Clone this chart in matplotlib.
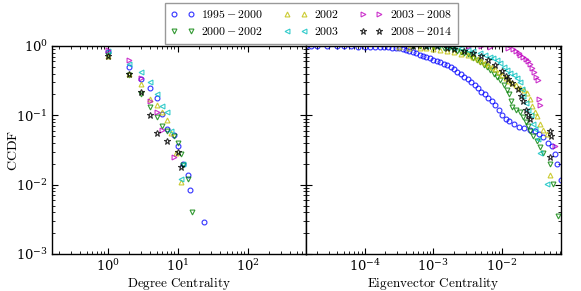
import matplotlib
matplotlib.use("Agg")
import numpy as np
from matplotlib import pyplot

pyplot.rcParams['mathtext.fontset'] = 'cm'
pyplot.rcParams['font.family'] = 'serif'
pyplot.rcParams['axes.formatter.use_mathtext'] = True
pyplot.rcParams['xtick.direction'] = 'in'
pyplot.rcParams['ytick.direction'] = 'in'
pyplot.rcParams['xtick.top'] = True
pyplot.rcParams['ytick.right'] = True
pyplot.rcParams['axes.linewidth'] = 1.0

labels = ["1995-2000", "2000-2002", "2002", "2003", "2003-2008", "2008-2014"]
colors = ["b", (0, 0.5, 0), (0.75, 0.75, 0), (0, 0.75, 0.75), (0.75, 0, 0.75), "k"]
markers = ["o", "v", "^", "<", ">", "*"]

# degree centrality CCDF
deg_x = [
    [1, 2, 3, 4, 5, 6, 7, 9, 10, 12, 14, 15, 24],
    [1, 2, 3, 4, 5, 6, 7, 9, 10, 11, 12, 14, 16],
    [1, 2, 3, 4, 5, 6, 7, 8, 9.4, 11],
    [1, 2, 3, 4, 5, 6, 7, 8, 12, 11],
    [1, 2, 3, 4, 5, 6, 9],
    [1, 2, 3, 4, 5, 7, 10, 11],
]
deg_y = [
    [0.83, 0.5, 0.33, 0.25, 0.18, 0.103, 0.063, 0.052, 0.036, 0.02, 0.0138, 0.0083, 0.0029],
    [0.75, 0.38, 0.2, 0.13, 0.095, 0.07, 0.06, 0.05, 0.04, 0.028, 0.019, 0.012, 0.004],
    [0.72, 0.4, 0.28, 0.17, 0.14, 0.11, 0.085, 0.055, 0.029, 0.011],
    [0.85, 0.55, 0.42, 0.3, 0.2, 0.135, 0.11, 0.06, 0.02, 0.012],
    [0.88, 0.62, 0.35, 0.16, 0.11, 0.062, 0.025],
    [0.72, 0.4, 0.22, 0.1, 0.055, 0.043, 0.03, 0.018],
]

# eigenvector centrality CCDF
eig_x = [
    [1.41e-5, 1.66e-5, 2.0e-5, 2.82e-5, 3.98e-5, 5.0e-5, 6.3e-5, 7.9e-5, 1.0e-4,
     1.2e-4, 1.41e-4, 1.66e-4, 1.9e-4, 2.19e-4, 2.51e-4, 2.82e-4, 3.16e-4, 3.55e-4,
     3.98e-4, 4.47e-4, 5.0e-4, 5.6e-4, 6.3e-4, 7.1e-4, 7.9e-4, 8.9e-4, 1.0e-3,
     1.12e-3, 1.26e-3, 1.41e-3, 1.58e-3, 1.78e-3, 2.0e-3, 2.24e-3, 2.51e-3, 2.82e-3,
     3.16e-3, 3.55e-3, 3.98e-3, 4.47e-3, 5.0e-3, 5.6e-3, 6.3e-3, 7.1e-3, 7.9e-3,
     8.9e-3, 1.0e-2, 1.12e-2, 1.26e-2, 1.51e-2, 1.78e-2, 2.09e-2, 2.51e-2, 3.02e-2,
     3.39e-2, 3.98e-2, 4.68e-2, 5.37e-2, 5.89e-2, 6.3e-2, 7.08e-2],
    [5.0e-4, 6.3e-4, 7.9e-4, 1.0e-3, 1.2e-3, 1.41e-3, 1.66e-3, 1.9e-3, 2.19e-3,
     2.51e-3, 2.82e-3, 3.16e-3, 3.55e-3, 3.8e-3, 4.27e-3, 4.79e-3, 5.37e-3, 6.03e-3,
     6.76e-3, 7.59e-3, 8.51e-3, 9.33e-3, 1.05e-2, 1.17e-2, 1.26e-2, 1.35e-2,
     1.41e-2, 1.58e-2, 1.82e-2, 2.0e-2, 2.19e-2, 2.4e-2, 2.57e-2, 2.82e-2, 3.24e-2,
     3.55e-2, 3.98e-2, 5.0e-2, 5.5e-2, 6.6e-2],
    [3.16e-4, 4.47e-4, 6.3e-4, 7.9e-4, 1.0e-3, 1.26e-3, 1.58e-3, 2.0e-3, 2.51e-3,
     3.16e-3, 3.8e-3, 4.47e-3, 5.0e-3, 5.6e-3, 6.3e-3, 7.1e-3, 7.9e-3, 8.9e-3,
     1.0e-2, 1.12e-2, 1.26e-2, 1.41e-2, 1.58e-2, 1.82e-2, 2.09e-2, 2.29e-2,
     2.51e-2, 2.69e-2, 3.02e-2, 3.24e-2, 3.55e-2, 3.98e-2, 4.47e-2, 5.0e-2],
    [7.9e-4, 1.12e-3, 1.58e-3, 2.0e-3, 2.51e-3, 3.16e-3, 3.8e-3, 4.79e-3, 5.6e-3,
     6.6e-3, 7.4e-3, 8.3e-3, 9.3e-3, 1.05e-2, 1.17e-2, 1.32e-2, 1.51e-2, 1.66e-2,
     1.82e-2, 1.95e-2, 2.04e-2, 2.19e-2, 2.4e-2, 2.63e-2, 2.82e-2, 3.02e-2,
     3.31e-2, 3.55e-2, 4.47e-2],
    [3.31e-3, 5.0e-3, 6.6e-3, 1.2e-2, 1.45e-2, 1.58e-2, 1.74e-2, 1.82e-2, 2.0e-2,
     2.19e-2, 2.4e-2, 2.57e-2, 2.75e-2, 2.95e-2, 3.16e-2, 3.31e-2, 3.47e-2,
     3.55e-2, 5.89e-2],
    [5.0e-4, 7.9e-4, 1.12e-3, 1.58e-3, 2.0e-3, 2.82e-3, 3.8e-3, 5.0e-3, 6.3e-3,
     7.9e-3, 1.0e-2, 1.12e-2, 1.23e-2, 1.41e-2, 1.7e-2, 1.91e-2, 2.04e-2, 2.24e-2,
     2.4e-2, 2.57e-2, 5.0e-2, 5.13e-2, 5.0e-2],
]
eig_y = [
    [0.995, 0.993, 0.99, 0.99, 0.988, 0.985, 0.985, 0.98, 0.98, 0.975, 0.97, 0.965,
     0.96, 0.955, 0.95, 0.94, 0.92, 0.90, 0.88, 0.85, 0.82, 0.78, 0.75, 0.72, 0.69,
     0.66, 0.63, 0.60, 0.58, 0.55, 0.53, 0.50, 0.46, 0.42, 0.39, 0.36, 0.33, 0.30,
     0.27, 0.25, 0.22, 0.20, 0.18, 0.16, 0.14, 0.12, 0.10, 0.09, 0.083, 0.075, 0.068,
     0.065, 0.062, 0.059, 0.053, 0.048, 0.040, 0.036, 0.028, 0.02, 0.0115],
    [0.995, 0.99, 0.985, 0.97, 0.96, 0.94, 0.92, 0.89, 0.86, 0.83, 0.80, 0.76, 0.71,
     0.67, 0.63, 0.58, 0.54, 0.50, 0.45, 0.40, 0.36, 0.32, 0.27, 0.235, 0.20, 0.16,
     0.13, 0.12, 0.11, 0.095, 0.08, 0.07, 0.06, 0.05, 0.042, 0.035, 0.029, 0.02,
     0.0104, 0.0035],
    [0.97, 0.95, 0.94, 0.93, 0.91, 0.88, 0.85, 0.81, 0.77, 0.73, 0.69, 0.65, 0.61,
     0.57, 0.53, 0.49, 0.46, 0.42, 0.38, 0.34, 0.31, 0.29, 0.27, 0.25, 0.23, 0.21,
     0.17, 0.136, 0.11, 0.098, 0.074, 0.062, 0.053, 0.014],
    [0.995, 0.99, 0.97, 0.95, 0.92, 0.88, 0.84, 0.79, 0.75, 0.70, 0.67, 0.62, 0.56,
     0.50, 0.45, 0.41, 0.38, 0.35, 0.30, 0.24, 0.19, 0.15, 0.12, 0.10, 0.075, 0.063,
     0.045, 0.029, 0.0104],
    [0.995, 0.99, 0.98, 0.95, 0.90, 0.85, 0.80, 0.74, 0.70, 0.65, 0.60, 0.55, 0.48,
     0.42, 0.36, 0.32, 0.17, 0.14, 0.036],
    [0.995, 0.99, 0.985, 0.95, 0.91, 0.86, 0.79, 0.72, 0.62, 0.53, 0.43, 0.37, 0.33,
     0.29, 0.24, 0.19, 0.16, 0.12, 0.10, 0.088, 0.06, 0.05, 0.025],
]

fig = pyplot.figure(figsize=(5.81, 2.91), dpi=100)
ax1 = fig.add_axes([0.0895, 0.127, 0.437, 0.715])
ax2 = fig.add_axes([0.5267, 0.127, 0.439, 0.715], sharey=ax1)

handles = []
for i in range(len(labels)):
    kw = dict(ls="none", marker=markers[i], mfc="none", mec=colors[i],
              ms=4.5 if markers[i] == "*" else 3.5, mew=0.8, alpha=0.8)
    h, = ax1.plot(deg_x[i], deg_y[i], label="$%s$" % labels[i], **kw)
    ax2.plot(eig_x[i], eig_y[i], **kw)
    handles.append(h)

for ax in (ax1, ax2):
    ax.set_xscale("log")
    ax.set_yscale("log")
    ax.tick_params(labelsize=9.5, which="major", length=4, pad=3)
    ax.tick_params(which="minor", length=2)

ax1.set_ylim(1e-3, 1)
ax1.set_xlim(0.16, 680)
ax2.set_xlim(1.4e-5, 0.072)
pyplot.setp(ax2.get_yticklabels(), visible=False)

ax1.set_xlabel(r"$\mathrm{Degree\ Centrality}$", fontsize=9.5)
ax2.set_xlabel(r"$\mathrm{Eigenvector\ Centrality}$", fontsize=9.5)
ax1.set_ylabel(r"$\mathrm{CCDF}$", fontsize=10)
ax1.xaxis.set_label_coords(0.5, -0.1)
ax2.xaxis.set_label_coords(0.5, -0.1)
ax1.yaxis.set_label_coords(-0.125, 0.5)

leg = fig.legend(handles=handles, loc="upper center", bbox_to_anchor=(0.536, 1.01),
                 ncol=3, numpoints=2, fontsize=8.5, fancybox=False,
                 handlelength=2.0, columnspacing=1.7, borderpad=0.45,
                 labelspacing=0.35, handletextpad=0.6)
leg.get_frame().set_edgecolor("0.5")
leg.get_frame().set_linewidth(1.0)

fig.savefig("out.png", dpi=100)
